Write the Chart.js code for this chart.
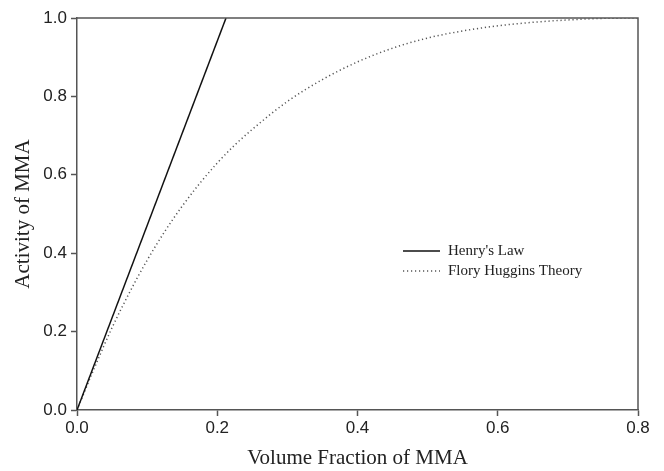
<!DOCTYPE html>
<html>
<head>
<meta charset="utf-8">
<script src="https://cdn.jsdelivr.net/npm/chart.js@4.4.1/dist/chart.umd.min.js"></script>
<style>
  html, body { margin: 0; padding: 0; background: #fff; }
  #wrap { width: 664px; height: 471px; }
</style>
</head>
<body>
<div id="wrap"><canvas id="c" width="664" height="471"></canvas></div>
<script>
// Data
const henryX = [0, 0.2125];
const henryY = [0, 1.0];
const floryX = [0, 0.025, 0.05, 0.075, 0.1, 0.125, 0.15, 0.175, 0.2, 0.225, 0.25, 0.3, 0.35, 0.4, 0.45, 0.5, 0.55, 0.6, 0.65, 0.7, 0.75, 0.8];
const floryY = [0, 0.108, 0.21, 0.30, 0.382, 0.455, 0.52, 0.578, 0.63, 0.676, 0.716, 0.787, 0.843, 0.888, 0.923, 0.949, 0.967, 0.980, 0.989, 0.995, 0.999, 1.0];
const seriesNames = ["Henry's Law", "Flory Huggins Theory"];
const xTicks = [0, 0.2, 0.4, 0.6, 0.8];
const yTicks = [0, 0.2, 0.4, 0.6, 0.8, 1.0];
const xTitle = "Volume Fraction of MMA";
const yTitle = "Activity of MMA";

const toPts = (xs, ys) => xs.map((x, i) => ({ x: x, y: ys[i] }));

const AXIS = '#555';
const serif = "'Liberation Serif', 'Times New Roman', serif";
const sans = "'Liberation Sans', Arial, sans-serif";

const framePlugin = {
  id: 'frame',
  afterDatasetsDraw(chart) {
    const { ctx, chartArea: a } = chart;
    ctx.save();
    ctx.strokeStyle = AXIS;
    ctx.lineWidth = 1.5;
    ctx.beginPath();
    ctx.moveTo(a.left, a.top);
    ctx.lineTo(a.right, a.top);
    ctx.lineTo(a.right, a.bottom);
    ctx.stroke();
    ctx.restore();
  }
};

const legendPlugin = {
  id: 'customLegend',
  afterDraw(chart) {
    const { ctx } = chart;
    const ds = chart.data.datasets;
    ctx.save();
    ctx.font = "15px " + serif;
    ctx.textBaseline = 'middle';
    ctx.textAlign = 'left';
    const x0 = 403, x1 = 440, tx = 448;
    const rows = [251, 271];
    ds.forEach((d, i) => {
      const y = rows[i];
      ctx.strokeStyle = d.borderColor;
      ctx.lineWidth = d.borderWidth;
      ctx.setLineDash(d.borderDash || []);
      ctx.beginPath();
      ctx.moveTo(x0, y);
      ctx.lineTo(x1, y);
      ctx.stroke();
      ctx.setLineDash([]);
      ctx.fillStyle = '#222';
      ctx.fillText(d.label, tx, y);
    });
    ctx.restore();
  }
};

new Chart(document.getElementById('c'), {
  type: 'scatter',
  data: {
    datasets: [
      {
        label: seriesNames[0],
        data: toPts(henryX, henryY),
        showLine: true,
        borderColor: '#111',
        borderWidth: 1.5,
        pointRadius: 0,
        fill: false
      },
      {
        label: seriesNames[1],
        data: toPts(floryX, floryY),
        showLine: true,
        borderColor: '#555',
        borderWidth: 1.5,
        borderDash: [1.2, 2.8],
        pointRadius: 0,
        cubicInterpolationMode: 'monotone',
        fill: false
      }
    ]
  },
  options: {
    responsive: false,
    animation: false,
    devicePixelRatio: 1,
    layout: { padding: { left: 0, right: 26, top: 18, bottom: 0 } },
    plugins: { legend: { display: false }, tooltip: { enabled: false } },
    scales: {
      x: {
        type: 'linear',
        min: 0, max: 0.8,
        afterFit(s) { s.height = 61; },
        afterBuildTicks(s) { s.ticks = xTicks.map(v => ({ value: v })); },
        grid: { drawOnChartArea: false, drawTicks: true, tickLength: 6, color: AXIS, tickWidth: 1.5 },
        border: { color: AXIS, width: 1.5 },
        ticks: { color: '#222', font: { family: sans, size: 17 }, padding: 2, maxRotation: 0,
                 callback: v => Number(v).toFixed(1) },
        title: { display: true, text: xTitle, color: '#222', font: { family: serif, size: 21 }, padding: { top: 0, bottom: 0 } }
      },
      y: {
        type: 'linear',
        min: 0, max: 1,
        afterFit(s) { s.width = 77; },
        afterBuildTicks(s) { s.ticks = yTicks.map(v => ({ value: v })); },
        grid: { drawOnChartArea: false, drawTicks: true, tickLength: 6, color: AXIS, tickWidth: 1.5 },
        border: { color: AXIS, width: 1.5 },
        ticks: { color: '#222', font: { family: sans, size: 17 }, padding: 4,
                 callback: v => Number(v).toFixed(1) },
        title: { display: true, text: yTitle, color: '#222', font: { family: serif, size: 21 }, padding: { top: 11, bottom: 0 } }
      }
    }
  },
  plugins: [framePlugin, legendPlugin]
});
</script>
</body>
</html>
